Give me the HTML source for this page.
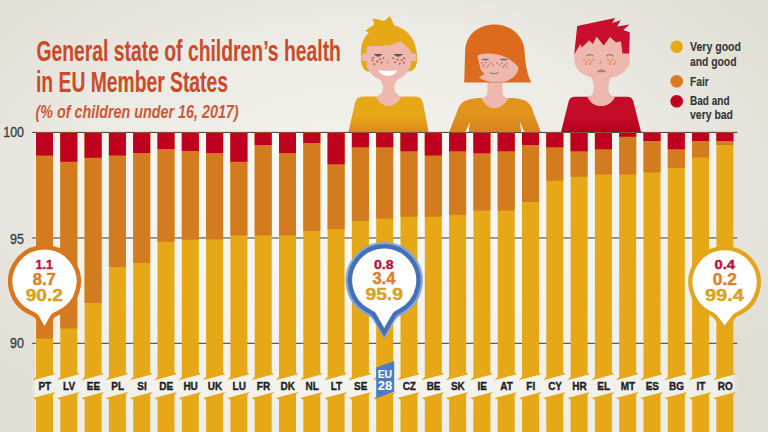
<!DOCTYPE html>
<html><head><meta charset="utf-8"><style>
html,body{margin:0;padding:0;width:768px;height:432px;overflow:hidden;background:#e8e6de;}
svg{display:block;font-family:"Liberation Sans",sans-serif;}
</style></head><body>
<svg width="768" height="432" viewBox="0 0 768 432">
<defs><radialGradient id="bg" cx="0.47" cy="0.42" r="0.62"><stop offset="0" stop-color="#f4f3ef"/><stop offset="0.55" stop-color="#ecebe5"/><stop offset="1" stop-color="#e1dfd5"/></radialGradient><linearGradient id="sh1" x1="0" y1="0" x2="0" y2="1"><stop offset="0.55" stop-color="#e6a817"/><stop offset="1" stop-color="#dc8a1a"/></linearGradient><linearGradient id="sh2" x1="0" y1="0" x2="0" y2="1"><stop offset="0.45" stop-color="#e2941d"/><stop offset="1" stop-color="#d9821b"/></linearGradient><linearGradient id="sh3" x1="0" y1="0" x2="0" y2="1"><stop offset="0.55" stop-color="#c40c28"/><stop offset="1" stop-color="#b3001f"/></linearGradient></defs>
<rect x="0" y="0" width="768" height="432" fill="url(#bg)"/>
<rect x="35" y="132" width="698.6" height="300" fill="#ffffff" fill-opacity="0.45"/>
<rect x="32.2" y="131.9" width="705" height="1" fill="#3a3a3a"/>
<rect x="32.2" y="237.3" width="705" height="1.3" fill="#686a68"/>
<rect x="32.2" y="342.8" width="705" height="1" fill="#3a3a3a"/>
<text x="24" y="136.6" text-anchor="end" font-size="14.5" fill="#3d3d3d" stroke="#3d3d3d" stroke-width="0.35" transform="translate(24 0) scale(0.86 1) translate(-24 0)">100</text>
<text x="24" y="243.6" text-anchor="end" font-size="14.5" fill="#3d3d3d" stroke="#3d3d3d" stroke-width="0.35" transform="translate(24 0) scale(0.86 1) translate(-24 0)">95</text>
<text x="24" y="347.8" text-anchor="end" font-size="14.5" fill="#3d3d3d" stroke="#3d3d3d" stroke-width="0.35" transform="translate(24 0) scale(0.86 1) translate(-24 0)">90</text>
<polygon fill="#e6a817" points="36,132.8 53,132.8 53,372.61 55.3,374.19 32.8,380.26 36,376.8"/>
<rect x="36" y="132.8" width="17.0" height="205.7" fill="#d37b1f"/>
<rect x="36" y="132.8" width="17.0" height="22.7" fill="#c0001f"/>
<polygon fill="#fbfaf6" fill-opacity="0.22" points="32.34,380.39 56.66,373.82 56.66,391.62 32.34,398.19"/>
<polygon fill="#e6a817" points="32.8,398.06 55.3,391.99 53,394.81 53,432 36,432 36,399.8"/>
<text x="44.8" y="390.2" text-anchor="middle" font-size="10.5" font-weight="bold" fill="#1e1e1e" stroke="#1e1e1e" stroke-width="0.35" textLength="12.75" lengthAdjust="spacingAndGlyphs">PT</text>
<polygon fill="#e6a817" points="60.3,132.8 77.3,132.8 77.3,372.61 79.6,374.19 57.1,380.26 60.3,376.8"/>
<rect x="60.3" y="132.8" width="17.0" height="195.7" fill="#d37b1f"/>
<rect x="60.3" y="132.8" width="17.0" height="28.95" fill="#c0001f"/>
<polygon fill="#fbfaf6" fill-opacity="0.22" points="56.64,380.39 80.96,373.82 80.96,391.62 56.64,398.19"/>
<polygon fill="#e6a817" points="57.1,398.06 79.6,391.99 77.3,394.81 77.3,432 60.3,432 60.3,399.8"/>
<text x="69.1" y="390.2" text-anchor="middle" font-size="10.5" font-weight="bold" fill="#1e1e1e" stroke="#1e1e1e" stroke-width="0.35" textLength="12.01" lengthAdjust="spacingAndGlyphs">LV</text>
<polygon fill="#e6a817" points="84.6,132.8 101.6,132.8 101.6,372.61 103.9,374.19 81.4,380.26 84.6,376.8"/>
<rect x="84.6" y="132.8" width="17.0" height="170.2" fill="#d37b1f"/>
<rect x="84.6" y="132.8" width="17.0" height="24.95" fill="#c0001f"/>
<polygon fill="#fbfaf6" fill-opacity="0.22" points="80.94,380.39 105.26,373.82 105.26,391.62 80.94,398.19"/>
<polygon fill="#e6a817" points="81.4,398.06 103.9,391.99 101.6,394.81 101.6,432 84.6,432 84.6,399.8"/>
<text x="93.4" y="390.2" text-anchor="middle" font-size="10.5" font-weight="bold" fill="#1e1e1e" stroke="#1e1e1e" stroke-width="0.35" textLength="13.31" lengthAdjust="spacingAndGlyphs">EE</text>
<polygon fill="#e6a817" points="108.9,132.8 125.9,132.8 125.9,372.61 128.2,374.19 105.7,380.26 108.9,376.8"/>
<rect x="108.9" y="132.8" width="17.0" height="134.2" fill="#d37b1f"/>
<rect x="108.9" y="132.8" width="17.0" height="22.7" fill="#c0001f"/>
<polygon fill="#fbfaf6" fill-opacity="0.22" points="105.24,380.39 129.56,373.82 129.56,391.62 105.24,398.19"/>
<polygon fill="#e6a817" points="105.7,398.06 128.2,391.99 125.9,394.81 125.9,432 108.9,432 108.9,399.8"/>
<text x="117.7" y="390.2" text-anchor="middle" font-size="10.5" font-weight="bold" fill="#1e1e1e" stroke="#1e1e1e" stroke-width="0.35" textLength="12.75" lengthAdjust="spacingAndGlyphs">PL</text>
<polygon fill="#e6a817" points="133.2,132.8 150.2,132.8 150.2,372.61 152.5,374.19 130,380.26 133.2,376.8"/>
<rect x="133.2" y="132.8" width="17.0" height="130.2" fill="#d37b1f"/>
<rect x="133.2" y="132.8" width="17.0" height="20.2" fill="#c0001f"/>
<polygon fill="#fbfaf6" fill-opacity="0.22" points="129.54,380.39 153.86,373.82 153.86,391.62 129.54,398.19"/>
<polygon fill="#e6a817" points="130,398.06 152.5,391.99 150.2,394.81 150.2,432 133.2,432 133.2,399.8"/>
<text x="142" y="390.2" text-anchor="middle" font-size="10.5" font-weight="bold" fill="#1e1e1e" stroke="#1e1e1e" stroke-width="0.35" textLength="9.42" lengthAdjust="spacingAndGlyphs">SI</text>
<polygon fill="#e6a817" points="157.5,132.8 174.5,132.8 174.5,372.61 176.8,374.19 154.3,380.26 157.5,376.8"/>
<rect x="157.5" y="132.8" width="17.0" height="108.95" fill="#d37b1f"/>
<rect x="157.5" y="132.8" width="17.0" height="16.2" fill="#c0001f"/>
<polygon fill="#fbfaf6" fill-opacity="0.22" points="153.84,380.39 178.16,373.82 178.16,391.62 153.84,398.19"/>
<polygon fill="#e6a817" points="154.3,398.06 176.8,391.99 174.5,394.81 174.5,432 157.5,432 157.5,399.8"/>
<text x="166.3" y="390.2" text-anchor="middle" font-size="10.5" font-weight="bold" fill="#1e1e1e" stroke="#1e1e1e" stroke-width="0.35" textLength="13.86" lengthAdjust="spacingAndGlyphs">DE</text>
<polygon fill="#e6a817" points="181.8,132.8 198.8,132.8 198.8,372.61 201.1,374.19 178.6,380.26 181.8,376.8"/>
<rect x="181.8" y="132.8" width="17.0" height="106.95" fill="#d37b1f"/>
<rect x="181.8" y="132.8" width="17.0" height="18.2" fill="#c0001f"/>
<polygon fill="#fbfaf6" fill-opacity="0.22" points="178.14,380.39 202.46,373.82 202.46,391.62 178.14,398.19"/>
<polygon fill="#e6a817" points="178.6,398.06 201.1,391.99 198.8,394.81 198.8,432 181.8,432 181.8,399.8"/>
<text x="190.6" y="390.2" text-anchor="middle" font-size="10.5" font-weight="bold" fill="#1e1e1e" stroke="#1e1e1e" stroke-width="0.35" textLength="14.41" lengthAdjust="spacingAndGlyphs">HU</text>
<polygon fill="#e6a817" points="206.1,132.8 223.1,132.8 223.1,372.61 225.4,374.19 202.9,380.26 206.1,376.8"/>
<rect x="206.1" y="132.8" width="17.0" height="106.7" fill="#d37b1f"/>
<rect x="206.1" y="132.8" width="17.0" height="20.2" fill="#c0001f"/>
<polygon fill="#fbfaf6" fill-opacity="0.22" points="202.44,380.39 226.76,373.82 226.76,391.62 202.44,398.19"/>
<polygon fill="#e6a817" points="202.9,398.06 225.4,391.99 223.1,394.81 223.1,432 206.1,432 206.1,399.8"/>
<text x="214.9" y="390.2" text-anchor="middle" font-size="10.5" font-weight="bold" fill="#1e1e1e" stroke="#1e1e1e" stroke-width="0.35" textLength="14.41" lengthAdjust="spacingAndGlyphs">UK</text>
<polygon fill="#e6a817" points="230.4,132.8 247.4,132.8 247.4,372.61 249.7,374.19 227.2,380.26 230.4,376.8"/>
<rect x="230.4" y="132.8" width="17.0" height="102.7" fill="#d37b1f"/>
<rect x="230.4" y="132.8" width="17.0" height="28.95" fill="#c0001f"/>
<polygon fill="#fbfaf6" fill-opacity="0.22" points="226.74,380.39 251.06,373.82 251.06,391.62 226.74,398.19"/>
<polygon fill="#e6a817" points="227.2,398.06 249.7,391.99 247.4,394.81 247.4,432 230.4,432 230.4,399.8"/>
<text x="239.2" y="390.2" text-anchor="middle" font-size="10.5" font-weight="bold" fill="#1e1e1e" stroke="#1e1e1e" stroke-width="0.35" textLength="13.3" lengthAdjust="spacingAndGlyphs">LU</text>
<polygon fill="#e6a817" points="254.7,132.8 271.7,132.8 271.7,372.61 274,374.19 251.5,380.26 254.7,376.8"/>
<rect x="254.7" y="132.8" width="17.0" height="102.7" fill="#d37b1f"/>
<rect x="254.7" y="132.8" width="17.0" height="12.2" fill="#c0001f"/>
<polygon fill="#fbfaf6" fill-opacity="0.22" points="251.04,380.39 275.36,373.82 275.36,391.62 251.04,398.19"/>
<polygon fill="#e6a817" points="251.5,398.06 274,391.99 271.7,394.81 271.7,432 254.7,432 254.7,399.8"/>
<text x="263.5" y="390.2" text-anchor="middle" font-size="10.5" font-weight="bold" fill="#1e1e1e" stroke="#1e1e1e" stroke-width="0.35" textLength="13.3" lengthAdjust="spacingAndGlyphs">FR</text>
<polygon fill="#e6a817" points="279,132.8 296,132.8 296,372.61 298.3,374.19 275.8,380.26 279,376.8"/>
<rect x="279" y="132.8" width="17.0" height="102.7" fill="#d37b1f"/>
<rect x="279" y="132.8" width="17.0" height="20.2" fill="#c0001f"/>
<polygon fill="#fbfaf6" fill-opacity="0.22" points="275.34,380.39 299.66,373.82 299.66,391.62 275.34,398.19"/>
<polygon fill="#e6a817" points="275.8,398.06 298.3,391.99 296,394.81 296,432 279,432 279,399.8"/>
<text x="287.8" y="390.2" text-anchor="middle" font-size="10.5" font-weight="bold" fill="#1e1e1e" stroke="#1e1e1e" stroke-width="0.35" textLength="14.41" lengthAdjust="spacingAndGlyphs">DK</text>
<polygon fill="#e6a817" points="303.3,132.8 320.3,132.8 320.3,372.61 322.6,374.19 300.1,380.26 303.3,376.8"/>
<rect x="303.3" y="132.8" width="17.0" height="98.2" fill="#d37b1f"/>
<rect x="303.3" y="132.8" width="17.0" height="10.2" fill="#c0001f"/>
<polygon fill="#fbfaf6" fill-opacity="0.22" points="299.64,380.39 323.96,373.82 323.96,391.62 299.64,398.19"/>
<polygon fill="#e6a817" points="300.1,398.06 322.6,391.99 320.3,394.81 320.3,432 303.3,432 303.3,399.8"/>
<text x="312.1" y="390.2" text-anchor="middle" font-size="10.5" font-weight="bold" fill="#1e1e1e" stroke="#1e1e1e" stroke-width="0.35" textLength="13.3" lengthAdjust="spacingAndGlyphs">NL</text>
<polygon fill="#e6a817" points="327.6,132.8 344.6,132.8 344.6,372.61 346.9,374.19 324.4,380.26 327.6,376.8"/>
<rect x="327.6" y="132.8" width="17.0" height="96.45" fill="#d37b1f"/>
<rect x="327.6" y="132.8" width="17.0" height="31.45" fill="#c0001f"/>
<polygon fill="#fbfaf6" fill-opacity="0.22" points="323.94,380.39 348.26,373.82 348.26,391.62 323.94,398.19"/>
<polygon fill="#e6a817" points="324.4,398.06 346.9,391.99 344.6,394.81 344.6,432 327.6,432 327.6,399.8"/>
<text x="336.4" y="390.2" text-anchor="middle" font-size="10.5" font-weight="bold" fill="#1e1e1e" stroke="#1e1e1e" stroke-width="0.35" textLength="11.44" lengthAdjust="spacingAndGlyphs">LT</text>
<polygon fill="#e6a817" points="351.9,132.8 368.9,132.8 368.9,372.61 371.2,374.19 348.7,380.26 351.9,376.8"/>
<rect x="351.9" y="132.8" width="17.0" height="88.2" fill="#d37b1f"/>
<rect x="351.9" y="132.8" width="17.0" height="14.45" fill="#c0001f"/>
<polygon fill="#fbfaf6" fill-opacity="0.22" points="348.24,380.39 372.56,373.82 372.56,391.62 348.24,398.19"/>
<polygon fill="#e6a817" points="348.7,398.06 371.2,391.99 368.9,394.81 368.9,432 351.9,432 351.9,399.8"/>
<text x="360.7" y="390.2" text-anchor="middle" font-size="10.5" font-weight="bold" fill="#1e1e1e" stroke="#1e1e1e" stroke-width="0.35" textLength="13.31" lengthAdjust="spacingAndGlyphs">SE</text>
<polygon fill="#e6a817" points="376.2,132.8 393.2,132.8 393.2,372.61 395.5,374.19 373,380.26 376.2,376.8"/>
<rect x="376.2" y="132.8" width="17.0" height="85.95" fill="#d37b1f"/>
<rect x="376.2" y="132.8" width="17.0" height="14.45" fill="#c0001f"/>
<polygon fill="#fbfaf6" fill-opacity="0.22" points="372.54,380.39 396.86,373.82 396.86,391.62 372.54,398.19"/>
<polygon fill="#e6a817" points="373,398.06 395.5,391.99 393.2,394.81 393.2,432 376.2,432 376.2,399.8"/>
<polygon fill="#4a7cc4" points="376.2,367.4 394.2,361.04 394.2,391.84 376.2,398.2"/>
<text x="384.9" y="377.8" text-anchor="middle" font-size="11.5" font-weight="bold" fill="#fff" textLength="14.5" lengthAdjust="spacingAndGlyphs">EU</text>
<text x="384.9" y="389.8" text-anchor="middle" font-size="12" font-weight="bold" fill="#fff" textLength="14.5" lengthAdjust="spacingAndGlyphs">28</text>
<polygon fill="#e6a817" points="400.5,132.8 417.5,132.8 417.5,372.61 419.8,374.19 397.3,380.26 400.5,376.8"/>
<rect x="400.5" y="132.8" width="17.0" height="83.95" fill="#d37b1f"/>
<rect x="400.5" y="132.8" width="17.0" height="18.45" fill="#c0001f"/>
<polygon fill="#fbfaf6" fill-opacity="0.22" points="396.84,380.39 421.16,373.82 421.16,391.62 396.84,398.19"/>
<polygon fill="#e6a817" points="397.3,398.06 419.8,391.99 417.5,394.81 417.5,432 400.5,432 400.5,399.8"/>
<text x="409.3" y="390.2" text-anchor="middle" font-size="10.5" font-weight="bold" fill="#1e1e1e" stroke="#1e1e1e" stroke-width="0.35" textLength="13.3" lengthAdjust="spacingAndGlyphs">CZ</text>
<polygon fill="#e6a817" points="424.8,132.8 441.8,132.8 441.8,372.61 444.1,374.19 421.6,380.26 424.8,376.8"/>
<rect x="424.8" y="132.8" width="17.0" height="83.95" fill="#d37b1f"/>
<rect x="424.8" y="132.8" width="17.0" height="22.7" fill="#c0001f"/>
<polygon fill="#fbfaf6" fill-opacity="0.22" points="421.14,380.39 445.46,373.82 445.46,391.62 421.14,398.19"/>
<polygon fill="#e6a817" points="421.6,398.06 444.1,391.99 441.8,394.81 441.8,432 424.8,432 424.8,399.8"/>
<text x="433.6" y="390.2" text-anchor="middle" font-size="10.5" font-weight="bold" fill="#1e1e1e" stroke="#1e1e1e" stroke-width="0.35" textLength="13.86" lengthAdjust="spacingAndGlyphs">BE</text>
<polygon fill="#e6a817" points="449.1,132.8 466.1,132.8 466.1,372.61 468.4,374.19 445.9,380.26 449.1,376.8"/>
<rect x="449.1" y="132.8" width="17.0" height="81.95" fill="#d37b1f"/>
<rect x="449.1" y="132.8" width="17.0" height="18.45" fill="#c0001f"/>
<polygon fill="#fbfaf6" fill-opacity="0.22" points="445.44,380.39 469.76,373.82 469.76,391.62 445.44,398.19"/>
<polygon fill="#e6a817" points="445.9,398.06 468.4,391.99 466.1,394.81 466.1,432 449.1,432 449.1,399.8"/>
<text x="457.9" y="390.2" text-anchor="middle" font-size="10.5" font-weight="bold" fill="#1e1e1e" stroke="#1e1e1e" stroke-width="0.35" textLength="13.86" lengthAdjust="spacingAndGlyphs">SK</text>
<polygon fill="#e6a817" points="473.4,132.8 490.4,132.8 490.4,372.61 492.7,374.19 470.2,380.26 473.4,376.8"/>
<rect x="473.4" y="132.8" width="17.0" height="77.7" fill="#d37b1f"/>
<rect x="473.4" y="132.8" width="17.0" height="20.45" fill="#c0001f"/>
<polygon fill="#fbfaf6" fill-opacity="0.22" points="469.74,380.39 494.06,373.82 494.06,391.62 469.74,398.19"/>
<polygon fill="#e6a817" points="470.2,398.06 492.7,391.99 490.4,394.81 490.4,432 473.4,432 473.4,399.8"/>
<text x="482.2" y="390.2" text-anchor="middle" font-size="10.5" font-weight="bold" fill="#1e1e1e" stroke="#1e1e1e" stroke-width="0.35" textLength="9.42" lengthAdjust="spacingAndGlyphs">IE</text>
<polygon fill="#e6a817" points="497.7,132.8 514.7,132.8 514.7,372.61 517,374.19 494.5,380.26 497.7,376.8"/>
<rect x="497.7" y="132.8" width="17.0" height="77.7" fill="#d37b1f"/>
<rect x="497.7" y="132.8" width="17.0" height="18.45" fill="#c0001f"/>
<polygon fill="#fbfaf6" fill-opacity="0.22" points="494.04,380.39 518.36,373.82 518.36,391.62 494.04,398.19"/>
<polygon fill="#e6a817" points="494.5,398.06 517,391.99 514.7,394.81 514.7,432 497.7,432 497.7,399.8"/>
<text x="506.5" y="390.2" text-anchor="middle" font-size="10.5" font-weight="bold" fill="#1e1e1e" stroke="#1e1e1e" stroke-width="0.35" textLength="12.56" lengthAdjust="spacingAndGlyphs">AT</text>
<polygon fill="#e6a817" points="522,132.8 539,132.8 539,372.61 541.3,374.19 518.8,380.26 522,376.8"/>
<rect x="522" y="132.8" width="17.0" height="69.2" fill="#d37b1f"/>
<rect x="522" y="132.8" width="17.0" height="12.2" fill="#c0001f"/>
<polygon fill="#fbfaf6" fill-opacity="0.22" points="518.34,380.39 542.66,373.82 542.66,391.62 518.34,398.19"/>
<polygon fill="#e6a817" points="518.8,398.06 541.3,391.99 539,394.81 539,432 522,432 522,399.8"/>
<text x="530.8" y="390.2" text-anchor="middle" font-size="10.5" font-weight="bold" fill="#1e1e1e" stroke="#1e1e1e" stroke-width="0.35" textLength="8.86" lengthAdjust="spacingAndGlyphs">FI</text>
<polygon fill="#e6a817" points="546.3,132.8 563.3,132.8 563.3,372.61 565.6,374.19 543.1,380.26 546.3,376.8"/>
<rect x="546.3" y="132.8" width="17.0" height="47.95" fill="#d37b1f"/>
<rect x="546.3" y="132.8" width="17.0" height="14.45" fill="#c0001f"/>
<polygon fill="#fbfaf6" fill-opacity="0.22" points="542.64,380.39 566.96,373.82 566.96,391.62 542.64,398.19"/>
<polygon fill="#e6a817" points="543.1,398.06 565.6,391.99 563.3,394.81 563.3,432 546.3,432 546.3,399.8"/>
<text x="555.1" y="390.2" text-anchor="middle" font-size="10.5" font-weight="bold" fill="#1e1e1e" stroke="#1e1e1e" stroke-width="0.35" textLength="13.86" lengthAdjust="spacingAndGlyphs">CY</text>
<polygon fill="#e6a817" points="570.6,132.8 587.6,132.8 587.6,372.61 589.9,374.19 567.4,380.26 570.6,376.8"/>
<rect x="570.6" y="132.8" width="17.0" height="43.95" fill="#d37b1f"/>
<rect x="570.6" y="132.8" width="17.0" height="18.45" fill="#c0001f"/>
<polygon fill="#fbfaf6" fill-opacity="0.22" points="566.94,380.39 591.26,373.82 591.26,391.62 566.94,398.19"/>
<polygon fill="#e6a817" points="567.4,398.06 589.9,391.99 587.6,394.81 587.6,432 570.6,432 570.6,399.8"/>
<text x="579.4" y="390.2" text-anchor="middle" font-size="10.5" font-weight="bold" fill="#1e1e1e" stroke="#1e1e1e" stroke-width="0.35" textLength="14.41" lengthAdjust="spacingAndGlyphs">HR</text>
<polygon fill="#e6a817" points="594.9,132.8 611.9,132.8 611.9,372.61 614.2,374.19 591.7,380.26 594.9,376.8"/>
<rect x="594.9" y="132.8" width="17.0" height="41.7" fill="#d37b1f"/>
<rect x="594.9" y="132.8" width="17.0" height="16.45" fill="#c0001f"/>
<polygon fill="#fbfaf6" fill-opacity="0.22" points="591.24,380.39 615.56,373.82 615.56,391.62 591.24,398.19"/>
<polygon fill="#e6a817" points="591.7,398.06 614.2,391.99 611.9,394.81 611.9,432 594.9,432 594.9,399.8"/>
<text x="603.7" y="390.2" text-anchor="middle" font-size="10.5" font-weight="bold" fill="#1e1e1e" stroke="#1e1e1e" stroke-width="0.35" textLength="12.75" lengthAdjust="spacingAndGlyphs">EL</text>
<polygon fill="#e6a817" points="619.2,132.8 636.2,132.8 636.2,372.61 638.5,374.19 616,380.26 619.2,376.8"/>
<rect x="619.2" y="132.8" width="17.0" height="41.7" fill="#d37b1f"/>
<rect x="619.2" y="132.8" width="17.0" height="3.95" fill="#c0001f"/>
<polygon fill="#fbfaf6" fill-opacity="0.22" points="615.54,380.39 639.86,373.82 639.86,391.62 615.54,398.19"/>
<polygon fill="#e6a817" points="616,398.06 638.5,391.99 636.2,394.81 636.2,432 619.2,432 619.2,399.8"/>
<text x="628" y="390.2" text-anchor="middle" font-size="10.5" font-weight="bold" fill="#1e1e1e" stroke="#1e1e1e" stroke-width="0.35" textLength="14.4" lengthAdjust="spacingAndGlyphs">MT</text>
<polygon fill="#e6a817" points="643.5,132.8 660.5,132.8 660.5,372.61 662.8,374.19 640.3,380.26 643.5,376.8"/>
<rect x="643.5" y="132.8" width="17.0" height="39.7" fill="#d37b1f"/>
<rect x="643.5" y="132.8" width="17.0" height="8.2" fill="#c0001f"/>
<polygon fill="#fbfaf6" fill-opacity="0.22" points="639.84,380.39 664.16,373.82 664.16,391.62 639.84,398.19"/>
<polygon fill="#e6a817" points="640.3,398.06 662.8,391.99 660.5,394.81 660.5,432 643.5,432 643.5,399.8"/>
<text x="652.3" y="390.2" text-anchor="middle" font-size="10.5" font-weight="bold" fill="#1e1e1e" stroke="#1e1e1e" stroke-width="0.35" textLength="13.31" lengthAdjust="spacingAndGlyphs">ES</text>
<polygon fill="#e6a817" points="667.8,132.8 684.8,132.8 684.8,372.61 687.1,374.19 664.6,380.26 667.8,376.8"/>
<rect x="667.8" y="132.8" width="17.0" height="35.2" fill="#d37b1f"/>
<rect x="667.8" y="132.8" width="17.0" height="16.45" fill="#c0001f"/>
<polygon fill="#fbfaf6" fill-opacity="0.22" points="664.14,380.39 688.46,373.82 688.46,391.62 664.14,398.19"/>
<polygon fill="#e6a817" points="664.6,398.06 687.1,391.99 684.8,394.81 684.8,432 667.8,432 667.8,399.8"/>
<text x="676.6" y="390.2" text-anchor="middle" font-size="10.5" font-weight="bold" fill="#1e1e1e" stroke="#1e1e1e" stroke-width="0.35" textLength="14.96" lengthAdjust="spacingAndGlyphs">BG</text>
<polygon fill="#e6a817" points="692.1,132.8 709.1,132.8 709.1,372.61 711.4,374.19 688.9,380.26 692.1,376.8"/>
<rect x="692.1" y="132.8" width="17.0" height="24.7" fill="#d37b1f"/>
<rect x="692.1" y="132.8" width="17.0" height="8.2" fill="#c0001f"/>
<polygon fill="#fbfaf6" fill-opacity="0.22" points="688.44,380.39 712.76,373.82 712.76,391.62 688.44,398.19"/>
<polygon fill="#e6a817" points="688.9,398.06 711.4,391.99 709.1,394.81 709.1,432 692.1,432 692.1,399.8"/>
<text x="700.9" y="390.2" text-anchor="middle" font-size="10.5" font-weight="bold" fill="#1e1e1e" stroke="#1e1e1e" stroke-width="0.35" textLength="8.86" lengthAdjust="spacingAndGlyphs">IT</text>
<polygon fill="#e6a817" points="716.4,132.8 733.4,132.8 733.4,372.61 735.7,374.19 713.2,380.26 716.4,376.8"/>
<rect x="716.4" y="132.8" width="17.0" height="12.2" fill="#d37b1f"/>
<rect x="716.4" y="132.8" width="17.0" height="8.2" fill="#c0001f"/>
<polygon fill="#fbfaf6" fill-opacity="0.22" points="712.74,380.39 737.06,373.82 737.06,391.62 712.74,398.19"/>
<polygon fill="#e6a817" points="713.2,398.06 735.7,391.99 733.4,394.81 733.4,432 716.4,432 716.4,399.8"/>
<text x="725.2" y="390.2" text-anchor="middle" font-size="10.5" font-weight="bold" fill="#1e1e1e" stroke="#1e1e1e" stroke-width="0.35" textLength="14.96" lengthAdjust="spacingAndGlyphs">RO</text>
<path d="M363,96.4 L415,96.4 Q422,96.4 423.2,103.5 L428.5,132 L348.5,132 L354.8,103.5 Q356,96.4 363,96.4 Z" fill="url(#sh1)"/>
<path d="M377.5,77 L399.5,77 C396,80.5 394.4,84 394.4,87.5 C394.4,91.5 396.5,95.5 401.5,96.8 C398,103 393,106 388.6,106 C384,106 379,103 375.8,96.8 C380.8,95.5 383,91.5 383,87.5 C383,84 381,80.5 377.5,77 Z" fill="#eeb8af"/>
<path d="M361,60 C360.2,47 362.5,38 368.8,32.8 L365.4,30.6 L374.3,24.4 L372.7,18.3 L384.3,21.1 L389.9,16.1 L394.3,25.6 C409,29 417.4,42 417.2,60 C417,66 414,70 410.5,71.5 L367,71.5 C364,70 361.2,66 361,60 Z" fill="#e6a817"/>
<ellipse cx="364.2" cy="57.2" rx="3.2" ry="4" fill="#eeb8af"/><ellipse cx="413.4" cy="57.2" rx="3.2" ry="4" fill="#eeb8af"/>
<path d="M366.5,49 C366.8,47 367.5,46.2 369,46.2 L389,45.6 C393,45.4 397,42 400.5,41.6 C403,43 409,48 411,52 L411,63 C410.5,73 400,81 388.7,81 C377,81 367,73 366.5,63 Z" fill="#eeb8af"/>
<path d="M375,54.6 Q378,57.6 381.2,54.6 Z M394.8,54.6 Q398,57.6 401.6,54.6 Z" fill="#5c5462" stroke="#5c5462" stroke-width="1.1" stroke-linecap="round"/>
<path d="M378.2,70.2 C384,70.9 391,70.9 397.2,70.2 C395.5,74 392,75.8 387.7,75.8 C383.5,75.8 380,74 378.2,70.2 Z" fill="#fff"/>
<circle cx="372.2" cy="60.3" r="1.05" fill="#b0654f"/><circle cx="374.3" cy="64.2" r="1.05" fill="#b0654f"/><circle cx="377.3" cy="61.4" r="1.05" fill="#b0654f"/><circle cx="380" cy="59.3" r="1.05" fill="#b0654f"/><circle cx="381.5" cy="62.6" r="1.05" fill="#b0654f"/><circle cx="383.5" cy="58.3" r="1.05" fill="#b0654f"/><circle cx="373.2" cy="57.8" r="1.05" fill="#b0654f"/><circle cx="393.2" cy="58.3" r="1.05" fill="#b0654f"/><circle cx="395" cy="62.2" r="1.05" fill="#b0654f"/><circle cx="397.6" cy="59.5" r="1.05" fill="#b0654f"/><circle cx="399.8" cy="63.8" r="1.05" fill="#b0654f"/><circle cx="401.8" cy="60.3" r="1.05" fill="#b0654f"/><circle cx="404" cy="62.8" r="1.05" fill="#b0654f"/><circle cx="404.3" cy="58.2" r="1.05" fill="#b0654f"/>
<path d="M388.5,59 L387.5,64" stroke="#c99088" stroke-width="0.9" fill="none"/>
<path d="M479,97.9 L512,97.9 C522,98.2 528.5,101 531.2,106.5 L540.8,132 L449.2,132 L459,106.5 C461.8,101 469,98.2 479,97.9 Z" fill="url(#sh2)"/>
<path d="M469.9,122 L468.7,132 L465.3,132 Z M520,122 L524.4,132 L521.1,132 Z" fill="#efeee9"/>
<path d="M487.6,80 L502.4,80 L502.6,93 C503,96 505,97.9 508.5,98.2 C505,104.5 500,108 494.5,108 C489,108 484.5,104.5 481.5,98.2 C485,97.9 487,96 487.3,93 Z" fill="#eeb8af"/>
<path d="M464.2,82.6 L465.2,50.4 C466,34 479,24.4 494.6,24.4 C511,24.4 523.5,36 524.5,50.4 C525,62 527,74 531.1,82.6 Z" fill="#dc6b1e"/>
<path d="M477.4,56 C482,52.5 496,53 504,56.5 C510,59 515,63 518.3,67.1 C518.5,73 514,79 504,81.8 L492,82 C487,81.5 483,80 478.8,77.5 L484.5,74 L480.8,69.9 Z" fill="#eeb8af"/>
<path d="M482.9,59.4 L487.9,59.4 M501,59.4 L506.5,59.4" fill="none" stroke="#6e6a78" stroke-width="1.5" stroke-linecap="round"/>
<path d="M490,72.8 Q494,74.6 498.2,72.8" fill="none" stroke="#8d7a7a" stroke-width="1.2" stroke-linecap="round"/>
<circle cx="481.5" cy="63" r="0.95" fill="#c9847c"/><circle cx="484" cy="64.5" r="0.95" fill="#c9847c"/><circle cx="486" cy="62.5" r="0.95" fill="#c9847c"/><circle cx="488.5" cy="65" r="0.95" fill="#c9847c"/><circle cx="483" cy="66.5" r="0.95" fill="#c9847c"/><circle cx="487" cy="67" r="0.95" fill="#c9847c"/><circle cx="491" cy="63" r="0.95" fill="#c9847c"/><circle cx="493" cy="65.5" r="0.95" fill="#c9847c"/><circle cx="497" cy="63" r="0.95" fill="#c9847c"/><circle cx="499.5" cy="65" r="0.95" fill="#c9847c"/><circle cx="502" cy="63" r="0.95" fill="#c9847c"/><circle cx="504.5" cy="65" r="0.95" fill="#c9847c"/><circle cx="507" cy="63.5" r="0.95" fill="#c9847c"/><circle cx="503" cy="67" r="0.95" fill="#c9847c"/><circle cx="506.5" cy="67" r="0.95" fill="#c9847c"/>
<path d="M575,96.8 L627,96.8 Q632.5,96.8 633.5,102 L641,132 L561,132 L568.5,102 Q569.5,96.8 575,96.8 Z" fill="url(#sh3)"/>
<path d="M591,76 L610.7,76 C608,84 607.5,90 610,94 C611.5,96 613,96.8 615.2,96.8 C612,103 607,106.1 600.9,106.1 C595,106.1 590,103 587.4,96.8 C589.5,96.8 591,96 592.5,94 C594.5,90 594,84 591,76 Z" fill="#eeb8af"/>
<path d="M576.4,35 L629.7,35 L629.8,59 C629.8,72 617,78.6 602,78.6 C587,78.6 574.3,72 574.3,59 L574.3,54.5 Z" fill="#eeb8af"/>
<path d="M577.2,25.9 L615,18.1 L612.2,23.1 L620.6,20.3 L617.2,26.4 L629.6,24.5 L623.3,29.9 L629.8,32.3 L629,53.6 L622.5,53.4 L620.9,41.2 L616,42.4 L610,37.1 L603.6,45.6 L596.6,36.4 L592.8,44.2 L589.4,40.3 L581.7,47.6 L580.5,44 L574.2,54.2 Z" fill="#c8102e"/>
<path d="M586.7,55.8 Q589.8,53.6 592.8,55.8 M606.7,55.8 Q609.8,53.6 612.7,55.8" fill="none" stroke="#8a8088" stroke-width="1.3" stroke-linecap="round"/>
<path d="M597.2,71.8 Q601.5,67.6 605.8,71.8 Z" fill="#9a8088" stroke="#9a8088" stroke-width="0.8" stroke-linejoin="round"/>
<circle cx="584" cy="60" r="0.95" fill="#d98a4a"/><circle cx="586.5" cy="61.8" r="0.95" fill="#d98a4a"/><circle cx="589" cy="59.8" r="0.95" fill="#d98a4a"/><circle cx="591.5" cy="61.5" r="0.95" fill="#d98a4a"/><circle cx="593.5" cy="59.5" r="0.95" fill="#d98a4a"/><circle cx="586" cy="64" r="0.95" fill="#d98a4a"/><circle cx="590" cy="63.8" r="0.95" fill="#d98a4a"/><circle cx="608" cy="59.8" r="0.95" fill="#d98a4a"/><circle cx="610.5" cy="61.5" r="0.95" fill="#d98a4a"/><circle cx="613" cy="59.5" r="0.95" fill="#d98a4a"/><circle cx="615.5" cy="61.8" r="0.95" fill="#d98a4a"/><circle cx="610" cy="64" r="0.95" fill="#d98a4a"/><circle cx="614" cy="63.8" r="0.95" fill="#d98a4a"/>
<path d="M601,60 L600,65" stroke="#c99088" stroke-width="0.9" fill="none"/>
<text x="36.4" y="60.7" font-size="28.8" font-weight="bold" fill="#cb4b29" stroke="#cb4b29" stroke-width="0.1" textLength="304.5" lengthAdjust="spacingAndGlyphs">General state of children’s health</text>
<text x="36" y="92" font-size="28.8" font-weight="bold" fill="#cb4b29" stroke="#cb4b29" stroke-width="0.1" textLength="192" lengthAdjust="spacingAndGlyphs">in EU Member States</text>
<text x="35.6" y="118.3" font-size="17.6" font-weight="bold" font-style="italic" fill="#d05834" textLength="203" lengthAdjust="spacingAndGlyphs">(% of children under 16, 2017)</text>
<circle cx="676.7" cy="46.7" r="6.3" fill="#e6a817"/>
<circle cx="676.7" cy="81.3" r="6.3" fill="#d97a1e"/>
<circle cx="676.7" cy="101.2" r="6.3" fill="#c0001f"/>
<text x="690" y="51.3" font-size="12.5" font-weight="bold" fill="#363636" stroke="#363636" stroke-width="0.1" textLength="51" lengthAdjust="spacingAndGlyphs">Very good</text>
<text x="690" y="65.8" font-size="12.5" font-weight="bold" fill="#363636" stroke="#363636" stroke-width="0.1" textLength="46.5" lengthAdjust="spacingAndGlyphs">and good</text>
<text x="690" y="85.5" font-size="12.5" font-weight="bold" fill="#363636" stroke="#363636" stroke-width="0.1" textLength="18.8" lengthAdjust="spacingAndGlyphs">Fair</text>
<text x="690" y="105.2" font-size="12.5" font-weight="bold" fill="#363636" stroke="#363636" stroke-width="0.1" textLength="39.6" lengthAdjust="spacingAndGlyphs">Bad and</text>
<text x="690" y="119" font-size="12.5" font-weight="bold" fill="#363636" stroke="#363636" stroke-width="0.1" textLength="43" lengthAdjust="spacingAndGlyphs">very bad</text>
<path d="M44.50,330.50 L36.95,317.01 Q35.62,314.63 31.10,313.07 A34.30,34.30 0 1 1 57.90,313.07 Q53.38,314.63 52.05,317.01 Z" fill="#fff" stroke="#d9761e" stroke-width="4.4" stroke-linejoin="miter" stroke-miterlimit="10"/>
<text x="44.3" y="268.8" text-anchor="middle" font-size="13.5" font-weight="bold" fill="#b9163f" stroke="#b9163f" stroke-width="0.45" textLength="17.5" lengthAdjust="spacingAndGlyphs">1.1</text>
<text x="44.3" y="284.7" text-anchor="middle" font-size="16" font-weight="bold" fill="#d9822b" stroke="#d9822b" stroke-width="0.45" textLength="23" lengthAdjust="spacingAndGlyphs">8.7</text>
<text x="44.3" y="300.7" text-anchor="middle" font-size="16.5" font-weight="bold" fill="#d9a21f" stroke="#d9a21f" stroke-width="0.45" textLength="37" lengthAdjust="spacingAndGlyphs">90.2</text>
<path d="M384.20,336.30 L373.88,318.85 Q372.06,315.77 367.27,313.73 A37.30,37.30 0 1 1 401.13,313.73 Q396.34,315.77 394.52,318.85 Z" fill="none" stroke="#88a6da" stroke-width="2.6" stroke-linejoin="miter" stroke-miterlimit="10"/>
<path d="M384.20,332.30 L374.74,315.76 Q373.07,312.84 368.67,310.97 A34.20,34.20 0 1 1 399.73,310.97 Q395.33,312.84 393.66,315.76 Z" fill="#fff" stroke="#4470b8" stroke-width="4.4" stroke-linejoin="miter" stroke-miterlimit="10"/>
<text x="383.8" y="268.8" text-anchor="middle" font-size="13" font-weight="bold" fill="#b9163f" stroke="#b9163f" stroke-width="0.45" textLength="19.5" lengthAdjust="spacingAndGlyphs">0.8</text>
<text x="383.9" y="284.1" text-anchor="middle" font-size="16" font-weight="bold" fill="#d9822b" stroke="#d9822b" stroke-width="0.45" textLength="23" lengthAdjust="spacingAndGlyphs">3.4</text>
<text x="384.2" y="299.8" text-anchor="middle" font-size="17" font-weight="bold" fill="#d9a21f" stroke="#d9a21f" stroke-width="0.45" textLength="37.5" lengthAdjust="spacingAndGlyphs">95.9</text>
<path d="M724.60,329.00 L715.62,316.95 Q714.03,314.83 709.61,313.04 A34.20,34.20 0 1 1 739.59,313.04 Q735.17,314.83 733.58,316.95 Z" fill="#fff" stroke="#e3a61b" stroke-width="4.2" stroke-linejoin="miter" stroke-miterlimit="10"/>
<text x="724.8" y="269.3" text-anchor="middle" font-size="12.5" font-weight="bold" fill="#b9163f" stroke="#b9163f" stroke-width="0.45" textLength="20.5" lengthAdjust="spacingAndGlyphs">0.4</text>
<text x="724.8" y="284.9" text-anchor="middle" font-size="16.5" font-weight="bold" fill="#d9822b" stroke="#d9822b" stroke-width="0.45" textLength="24" lengthAdjust="spacingAndGlyphs">0.2</text>
<text x="724.4" y="301.4" text-anchor="middle" font-size="17" font-weight="bold" fill="#d9a21f" stroke="#d9a21f" stroke-width="0.45" textLength="39" lengthAdjust="spacingAndGlyphs">99.4</text>
</svg>
</body></html>
